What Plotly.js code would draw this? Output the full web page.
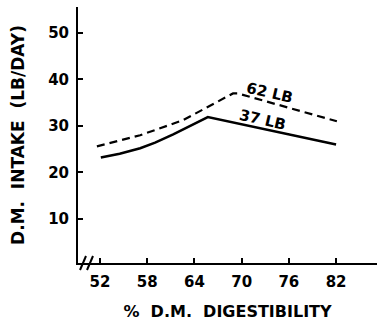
<!DOCTYPE html>
<html>
<head>
<meta charset="utf-8">
<script src="https://cdn.plot.ly/plotly-3.0.1.min.js"></script>
<style>html,body{margin:0;padding:0;background:#fff;}#chart{width:377px;height:324px;}</style>
</head>
<body>
<div id="chart"></div>
<script>
// Digestibility (%) vs dry-matter intake (lb/day)
const x37 = [52.1, 54.5, 57.1, 59.0, 61.3, 63.5, 65.7, 82.0];
const y37 = [23.2, 24.0, 25.2, 26.4, 28.2, 30.0, 31.9, 26.0];
const x62 = [51.6, 57.1, 62.5, 67.2, 68.9, 69.5, 82.1];
const y62 = [25.6, 28.0, 31.2, 35.5, 37.0, 37.0, 31.0];
const xTicks = [52, 58, 64, 70, 76, 82];
const yTicks = [10, 20, 30, 40, 50];
const seriesNames = ['37 LB', '62 LB'];
const xTitle = '%  D.M.  DIGESTIBILITY';
const yTitle = 'D.M.  INTAKE  (LB/DAY)';

const F = 'DejaVu Sans, Arial, sans-serif';
const traces = [
  {x: x37, y: y37, mode: 'lines', name: seriesNames[0], line: {color: '#000', width: 2.5}},
  {x: x62, y: y62, mode: 'lines', name: seriesNames[1], line: {color: '#000', width: 2.2, dash: '8px,5px'}}
];
function px2paperX(p){return (p-78)/299;}
function px2paperY(p){return (263-p)/256;}
const layout = {
  width: 377, height: 324,
  margin: {l: 78, r: 0, t: 7, b: 61},
  paper_bgcolor: '#fff', plot_bgcolor: '#fff',
  showlegend: false,
  font: {family: F, color: '#000', size: 15, weight: 'bold'},
  xaxis: {
    range: [49.2, 87.2], tickvals: xTicks, ticktext: xTicks.map(String),
    ticks: 'inside', ticklen: 5, tickwidth: 2, tickcolor: '#000', ticklabelstandoff: 4,
    showline: true, linewidth: 2, linecolor: '#000', showgrid: false, zeroline: false,
    tickfont: {family: F, size: 15, weight: 'bold'},
    title: {text: xTitle, font: {family: F, size: 16, weight: 'bold'}, standoff: 16}
  },
  yaxis: {
    range: [0.5, 55.6], tickvals: yTicks, ticktext: yTicks.map(String),
    ticks: 'inside', ticklen: 5, tickwidth: 2, tickcolor: '#000', ticklabelstandoff: 4,
    showline: true, linewidth: 2, linecolor: '#000', showgrid: false, zeroline: false,
    tickfont: {family: F, size: 15, weight: 'bold'},
    title: {text: yTitle, font: {family: F, size: 17, weight: 'bold'}, standoff: 19}
  },
  annotations: [
    {x: 73.6, y: 37.1, xref: 'x', yref: 'y', text: seriesNames[1], showarrow: false, textangle: 13,
     font: {family: F, size: 15, weight: 'bold'}},
    {x: 72.7, y: 31.3, xref: 'x', yref: 'y', text: seriesNames[0], showarrow: false, textangle: 13,
     font: {family: F, size: 15, weight: 'bold'}}
  ],
  shapes: [
    {type: 'line', xref: 'paper', yref: 'paper', x0: px2paperX(80), y0: px2paperY(270), x1: px2paperX(86), y1: px2paperY(256), line: {color: '#000', width: 2}},
    {type: 'line', xref: 'paper', yref: 'paper', x0: px2paperX(87), y0: px2paperY(270), x1: px2paperX(93), y1: px2paperY(256), line: {color: '#000', width: 2}}
  ]
};
Plotly.newPlot('chart', traces, layout, {staticPlot: true, displayModeBar: false});
</script>
</body>
</html>
